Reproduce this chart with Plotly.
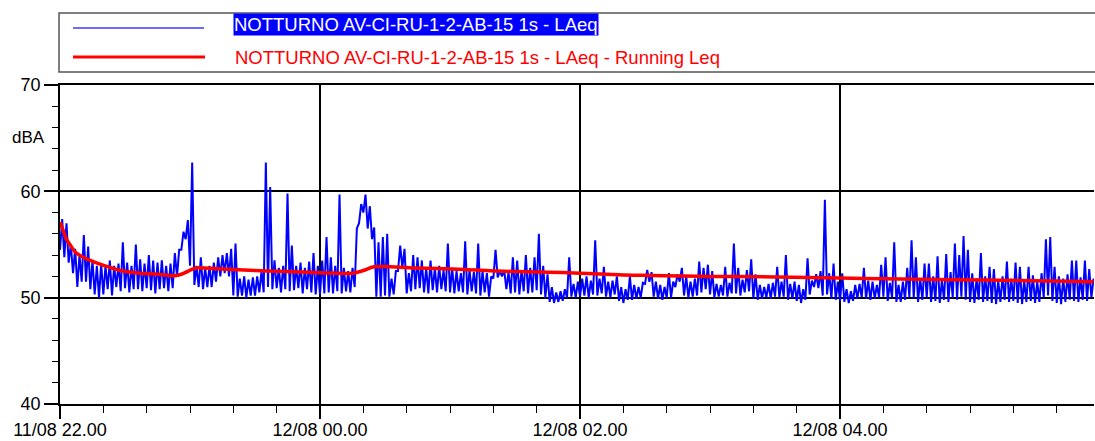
import pandas as pd
import plotly.graph_objects as go

# Serie LAeq 1s: per ogni intervallo di 2 minuti il valore
# massimo (hi) e minimo (lo), blocchi da 2 ore a partire dalle 22.00
laeq_hi_1 = [57.4, 57.0, 55.0, 54.6, 54.0, 55.9, 54.8, 53.5, 53.0, 53.2,
             53.0, 53.5, 53.0, 53.2, 55.2, 53.3, 53.0, 55.0, 53.6, 53.2,
             54.0, 53.5, 53.3, 53.5, 53.0, 53.2, 54.2, 54.5, 56.2, 57.3,
             62.7, 53.0, 53.8, 52.8, 53.0, 53.3, 53.8, 54.0, 54.2, 54.6,
             55.1, 51.8, 52.0, 51.7, 51.9, 52.0, 52.5, 62.7, 60.4, 53.5,
             52.8, 53.0, 59.8, 54.9, 53.0, 53.3, 52.8, 53.4, 54.2, 53.0]
laeq_lo_1 = [54.5, 53.8, 53.3, 52.3, 51.0, 51.5, 51.5, 50.8, 50.3, 50.0,
             50.3, 50.8, 50.2, 51.0, 50.6, 50.9, 50.5, 50.8, 50.8, 50.6,
             50.9, 50.7, 50.4, 50.8, 50.9, 50.6, 50.9, 52.0, 54.5, 55.5,
             53.0, 51.2, 51.0, 50.8, 51.0, 51.0, 51.5, 52.0, 52.3, 52.0,
             50.2, 50.1, 50.2, 50.0, 50.2, 50.2, 50.5, 50.5, 51.0, 50.8,
             50.9, 50.5, 50.8, 50.6, 50.7, 50.9, 50.4, 50.8, 50.5, 50.3]
laeq_hi_2 = [53.5, 55.7, 53.8, 53.0, 59.7, 52.8, 52.5, 52.8, 56.5, 58.8,
             59.7, 58.6, 56.6, 55.2, 55.7, 56.0, 51.8, 52.5, 54.9, 54.6,
             52.3, 54.0, 53.8, 53.5, 52.8, 53.5, 52.8, 53.0, 52.6, 55.1,
             52.8, 52.5, 52.3, 55.3, 52.6, 52.4, 55.1, 52.5, 52.3, 52.0,
             54.5, 52.5, 52.6, 52.4, 53.8, 53.5, 52.6, 54.0, 52.8, 53.8,
             56.0, 53.0, 52.2, 51.0, 50.5, 50.6, 50.8, 53.8, 51.3, 51.5]
laeq_lo_2 = [50.3, 50.4, 50.5, 50.4, 50.6, 50.4, 50.6, 50.5, 51.0, 57.0,
             58.0, 56.5, 55.5, 50.1, 50.1, 50.2, 50.1, 50.3, 52.5, 52.8,
             50.4, 50.6, 50.8, 50.9, 50.5, 50.4, 50.7, 50.5, 50.8, 50.6,
             50.5, 50.4, 50.6, 50.5, 50.3, 50.6, 50.4, 50.2, 50.5, 50.1,
             51.8, 51.9, 52.0, 50.8, 50.4, 50.5, 50.3, 50.6, 50.4, 50.5,
             50.7, 50.3, 50.0, 49.6, 49.5, 49.6, 49.7, 50.0, 50.1, 50.0]
laeq_hi_3 = [51.8, 52.0, 51.6, 55.4, 51.8, 52.9, 51.5, 51.6, 52.0, 51.0,
             50.8, 52.0, 51.2, 51.0, 51.4, 52.6, 52.4, 51.5, 51.2, 51.0,
             52.3, 51.5, 52.2, 52.8, 52.0, 51.5, 51.8, 53.4, 52.8, 53.1,
             52.5, 51.3, 51.2, 52.9, 51.4, 55.1, 52.8, 51.7, 52.6, 53.6,
             52.2, 51.2, 51.0, 51.3, 51.4, 52.9, 51.5, 54.0, 51.3, 51.5,
             51.2, 50.8, 53.7, 51.6, 52.2, 52.5, 59.2, 52.3, 53.2, 51.5]
laeq_lo_3 = [50.1, 50.2, 50.0, 50.3, 50.2, 50.4, 50.1, 50.0, 50.3, 49.7,
             49.5, 49.8, 49.8, 49.9, 50.0, 51.3, 51.5, 50.1, 49.9, 49.8,
             50.0, 50.0, 51.0, 51.5, 50.2, 50.0, 50.1, 50.2, 50.5, 50.8,
             50.3, 50.0, 50.1, 50.2, 50.1, 50.4, 50.4, 50.2, 50.5, 50.6,
             49.9, 49.8, 49.9, 50.0, 49.9, 50.1, 50.0, 50.1, 49.8, 49.9,
             49.7, 49.5, 49.8, 50.3, 51.0, 50.9, 50.2, 50.3, 49.9, 49.8]
laeq_hi_4 = [52.3, 50.8, 50.6, 51.2, 51.3, 52.8, 51.6, 51.5, 51.2, 53.1,
             53.8, 51.4, 55.2, 51.2, 51.5, 52.8, 55.4, 53.8, 51.8, 53.2,
             53.2, 52.0, 53.9, 51.6, 54.1, 52.4, 55.1, 54.0, 55.8, 54.5,
             52.3, 51.8, 54.2, 52.0, 52.9, 52.7, 51.6, 52.0, 53.4, 51.8,
             53.3, 52.9, 51.6, 52.9, 52.1, 51.5, 52.3, 55.5, 55.7, 52.9,
             52.0, 51.8, 52.2, 53.5, 53.5, 51.9, 53.5, 52.7, 51.8]
laeq_lo_4 = [49.7, 49.6, 49.5, 49.7, 49.9, 50.0, 49.9, 49.8, 49.9, 50.0,
             50.1, 49.7, 50.0, 49.6, 49.6, 49.8, 50.0, 49.9, 49.6, 49.8,
             50.0, 49.6, 49.7, 49.5, 49.8, 49.6, 50.0, 49.8, 50.1, 49.8,
             49.6, 49.5, 49.8, 49.6, 49.7, 49.5, 49.4, 49.6, 49.8, 49.6,
             49.7, 49.5, 49.4, 49.6, 49.7, 49.5, 49.6, 50.0, 50.2, 49.7,
             49.5, 49.4, 49.6, 49.8, 49.7, 49.6, 49.8, 49.7, 50.0]

# Running Leq: minuti dalle 22.00 e valore in dBA
leq_min = [0, 1.5, 3, 4.6, 7, 10.7, 15.3, 21.5, 29, 37, 45, 53, 56, 61.4, 63,
           75, 90, 105, 120, 135, 140, 145, 164, 187, 202, 225, 240, 268, 299,
           330, 360, 388, 427, 465, 477]
leq_val = [57.1, 56.3, 55.5, 55.0, 54.3, 53.8, 53.4, 52.95, 52.5, 52.3, 52.2,
           52.07, 52.2, 52.7, 52.8, 52.7, 52.55, 52.45, 52.35, 52.3, 52.55,
           52.9, 52.8, 52.65, 52.5, 52.4, 52.3, 52.1, 52.0, 51.95, 51.85,
           51.75, 51.65, 51.55, 51.5]

legend_names = ["NOTTURNO AV-CI-RU-1-2-AB-15 1s - LAeq",
                "NOTTURNO AV-CI-RU-1-2-AB-15 1s - LAeq - Running Leq"]

start = pd.Timestamp("2021-08-11 22:00")
end = start + pd.Timedelta(minutes=477.2)

# Ricostruzione della serie a zig-zag (min/max per ogni intervallo)
hi = laeq_hi_1 + laeq_hi_2 + laeq_hi_3 + laeq_hi_4
lo = laeq_lo_1 + laeq_lo_2 + laeq_lo_3 + laeq_lo_4
x_blue, y_blue = [], []
for k in range(len(hi)):
    x_blue += [start + pd.Timedelta(minutes=2 * k), start + pd.Timedelta(minutes=2 * k + 1)]
    y_blue += [lo[k], hi[k]]
x_red = [start + pd.Timedelta(minutes=m) for m in leq_min]

fig = go.Figure()
fig.add_trace(go.Scatter(x=x_blue, y=y_blue, mode="lines", name=legend_names[0],
                         line=dict(color="#0000ff", width=2)))
fig.add_trace(go.Scatter(x=x_red, y=leq_val, mode="lines", name=legend_names[1],
                         line=dict(color="#ff0000", width=3.5, shape="spline")))

font_family = "Liberation Sans, Arial, sans-serif"
axis_common = dict(showgrid=True, gridcolor="black", gridwidth=1.5,
                   showline=True, linecolor="black", linewidth=1.5,
                   ticks="outside", tickcolor="black", tickwidth=1.5,
                   tickfont=dict(size=18, color="black"), zeroline=False,
                   automargin=False)

fig.update_layout(
    width=1095, height=441,
    margin=dict(l=60, r=1, t=85, b=37),
    plot_bgcolor="white", paper_bgcolor="white",
    font=dict(family=font_family, size=18, color="black"),
    showlegend=False,
    xaxis=dict(type="date", range=[start, end], tick0=start, dtick=7200000,
               tickformat="%d/%m %H.%M", ticklen=13, mirror=True,
               ticklabelstandoff=-4,
               minor=dict(dtick=1200000, tick0=start, ticks="outside", ticklen=7,
                          tickcolor="black", tickwidth=1.2, showgrid=False),
               **axis_common),
    yaxis=dict(range=[40, 70], dtick=10, ticklen=14,
               minor=dict(dtick=2, ticks="outside", ticklen=6,
                          tickcolor="black", tickwidth=1.2, showgrid=False),
               **axis_common),
)

# Legenda disegnata a mano (riquadro, campioni di linea, testi)
def px_x(px):
    return (px - 60) / 1034.0

def px_y(py):
    return (404 - py) / 319.0

fig.add_shape(type="rect", xref="paper", yref="paper",
              x0=px_x(59), x1=px_x(1100), y0=px_y(72), y1=px_y(13),
              line=dict(color="#555555", width=1.5), fillcolor="white", layer="above")
fig.add_shape(type="line", xref="paper", yref="paper",
              x0=px_x(73), x1=px_x(204), y0=px_y(28), y1=px_y(28),
              line=dict(color="#3a3aff", width=1.5))
fig.add_shape(type="line", xref="paper", yref="paper",
              x0=px_x(73), x1=px_x(205), y0=px_y(57), y1=px_y(57),
              line=dict(color="#ff0000", width=3))
fig.add_annotation(xref="paper", yref="paper", x=px_x(233), y=px_y(24.5),
                   xanchor="left", yanchor="middle", showarrow=False,
                   text=legend_names[0], bgcolor="#0000ff", borderpad=0,
                   font=dict(family=font_family, size=18.5, color="white"))
fig.add_annotation(xref="paper", yref="paper", x=px_x(233), y=px_y(57),
                   xanchor="left", yanchor="middle", showarrow=False,
                   text=legend_names[1],
                   font=dict(family=font_family, size=18.5, color="#ff0000"))
fig.add_annotation(xref="paper", yref="paper", x=px_x(28), y=px_y(137),
                   xanchor="center", yanchor="middle", showarrow=False,
                   text="dBA", font=dict(family=font_family, size=17, color="black"))

# Togliere il margine della pagina perche' il grafico parta dall'angolo
fig.write_html("out.html", config={"displayModeBar": False},
               post_script="document.body.style.margin='0';document.body.style.overflow='hidden';")
